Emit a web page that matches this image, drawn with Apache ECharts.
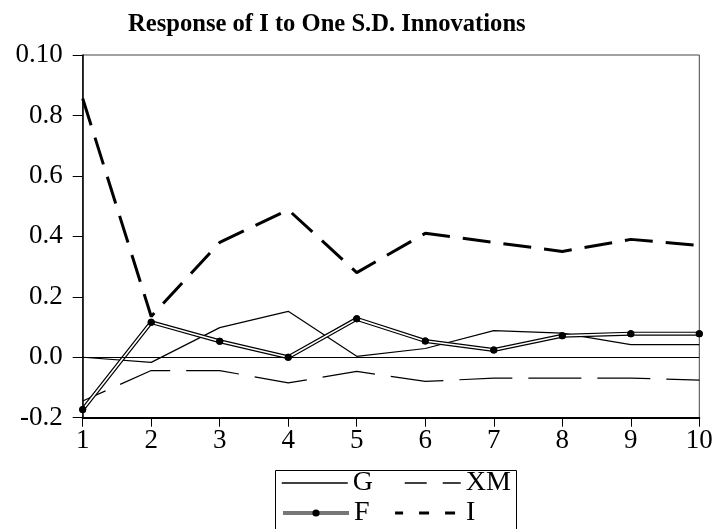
<!DOCTYPE html>
<html>
<head>
<meta charset="utf-8">
<script src="https://cdn.jsdelivr.net/npm/echarts@6/dist/echarts.min.js"></script>
<style>
html,body{margin:0;padding:0;background:#fff;}
#chart{width:717px;height:529px;}
</style>
</head>
<body>
<div id="chart"></div>
<script>
const titleText = 'Response of I to One S.D. Innovations';
const periods = ['1','2','3','4','5','6','7','8','9','10'];
const seriesG  = [0.000, -0.017, 0.098, 0.152, 0.003, 0.029, 0.088, 0.080, 0.042, 0.042];
const seriesXM = [-0.145, -0.044, -0.044, -0.085, -0.047, -0.080, -0.069, -0.069, -0.069, -0.076];
const seriesF  = [-0.173, 0.116, 0.053, 0.000, 0.127, 0.054, 0.024, 0.071, 0.078, 0.078];
const seriesI  = [0.856, 0.135, 0.380, 0.488, 0.280, 0.410, 0.380, 0.350, 0.390, 0.370];
const yTickLabels = ['-0.2','0.0','0.2','0.4','0.6','0.8','0.10'];
const yMin = -0.2, yMax = 1.0, yStep = 0.2;

const FONT = "'Liberation Serif', 'Times New Roman', serif";
const chart = echarts.init(document.getElementById('chart'), null, {renderer:'canvas'});

const noDot = {opacity: 0};
const option = {
  backgroundColor: '#fff',
  animation: false,
  title: {
    text: titleText,
    left: 123, top: 7,
    textStyle: {fontFamily: FONT, fontWeight: 'bold', fontSize: 24.6, color: '#000'}
  },
  grid: {
    left: 82.7, right: 17.7, top: 55, bottom: 111.3,
    show: true, borderColor: '#444', borderWidth: 1, backgroundColor: 'transparent'
  },
  xAxis: {
    type: 'category', data: periods, boundaryGap: false,
    axisLine: {show: true, onZero: false, lineStyle: {color: '#000', width: 2}},
    axisTick: {show: true, alignWithLabel: true, length: 9, inside: false, lineStyle: {color: '#000', width: 1}},
    axisLabel: {fontFamily: FONT, fontSize: 27, color: '#000', margin: 10, interval: 0},
    splitLine: {show: false}
  },
  yAxis: {
    type: 'value', min: yMin, max: yMax, interval: yStep,
    axisLine: {show: true, lineStyle: {color: '#000', width: 1.5}},
    axisTick: {show: true, length: 10, lineStyle: {color: '#000', width: 1}},
    axisLabel: {
      fontFamily: FONT, fontSize: 27, color: '#000', margin: 20,
      formatter: v => yTickLabels[Math.round((v - yMin) / yStep)]
    },
    splitLine: {show: false}
  },
  legend: [
    {
      data: [
        {name: 'G', itemStyle: noDot, lineStyle: {width: 1.5}},
        {name: 'XM', itemStyle: noDot, lineStyle: {type: [22, 16], width: 1.5}}
      ],
      left: 281, top: 468, padding: 0, itemGap: 21,
      itemWidth: 66, itemHeight: 9,
      textStyle: {fontFamily: FONT, fontSize: 28, color: '#000', lineHeight: 30},
      selectedMode: false
    },
    {
      data: [
        {name: 'F', lineStyle: {color: '#777', width: 4}},
        {name: 'I', itemStyle: noDot, lineStyle: {type: [10, 16], width: 3}}
      ],
      left: 281, top: 498, padding: 0, itemGap: 24,
      itemWidth: 66, itemHeight: 9,
      textStyle: {fontFamily: FONT, fontSize: 28, color: '#000', lineHeight: 30},
      selectedMode: false
    }
  ],
  graphic: [{
    type: 'rect', left: 273, top: 468, silent: true,
    shape: {width: 241, height: 60},
    style: {fill: 'none', stroke: '#000', lineWidth: 1}
  }],
  series: [
    {
      name: 'G', type: 'line', data: seriesG, symbol: 'none',
      lineStyle: {color: '#000', width: 1.2, type: 'solid'},
      itemStyle: {color: '#000'},
      markLine: {
        silent: true, symbol: 'none', label: {show: false},
        lineStyle: {color: '#000', width: 1, type: 'solid'},
        data: [{yAxis: 0}]
      }
    },
    {
      name: 'XM', type: 'line', data: seriesXM, symbol: 'none',
      lineStyle: {color: '#000', width: 1.2, type: [53, 16], dashOffset: 28},
      itemStyle: {color: '#000'}
    },
    {
      name: 'I', type: 'line', data: seriesI, symbol: 'none',
      lineStyle: {color: '#000', width: 3, type: [28, 13]},
      itemStyle: {color: '#000'}
    },
    {
      name: 'F', type: 'line', data: seriesF, symbol: 'circle', symbolSize: 7,
      lineStyle: {color: '#000', width: 4},
      itemStyle: {color: '#000'}
    },
    {
      name: 'F_inner', type: 'line', data: seriesF, symbol: 'none',
      lineStyle: {color: '#fff', width: 1.6},
      itemStyle: {color: '#fff'}
    },
    {
      name: 'F_dots', type: 'line', data: seriesF, symbol: 'circle', symbolSize: 7,
      lineStyle: {width: 0, opacity: 0},
      itemStyle: {color: '#000'}
    }
  ]
};
chart.setOption(option);
</script>
</body>
</html>
